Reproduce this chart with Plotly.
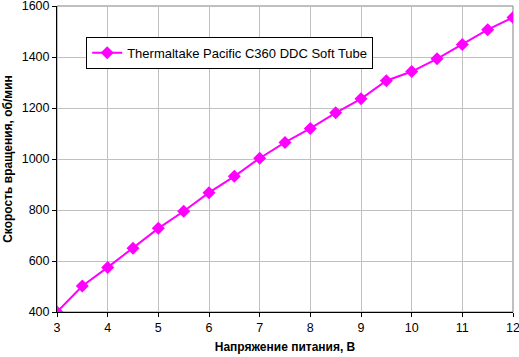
import plotly.graph_objects as go

voltage = [3, 3.5, 4, 4.5, 5, 5.5, 6, 6.5, 7, 7.5, 8, 8.5, 9, 9.5, 10, 10.5, 11, 11.5, 12]
rpm = [400, 502, 575, 650, 728, 795, 868, 932, 1003, 1065, 1120, 1181, 1236, 1307, 1343, 1393, 1449, 1507, 1555]
series_name = "Thermaltake Pacific C360 DDC Soft Tube"
x_ticks = [3, 4, 5, 6, 7, 8, 9, 10, 11, 12]
y_ticks = [400, 600, 800, 1000, 1200, 1400, 1600]

FONT = "Liberation Sans, Arial, sans-serif"

fig = go.Figure()
fig.add_trace(go.Scatter(
    x=voltage, y=rpm, name=series_name, mode="lines+markers",
    line=dict(color="#FF00FF", width=2),
    marker=dict(symbol="diamond", size=10, color="#FF00FF"),
))

fig.update_layout(
    width=519, height=357,
    margin=dict(l=57, r=6, t=6, b=45),
    paper_bgcolor="white", plot_bgcolor="white",
    font=dict(family=FONT, size=12.5, color="black"),
    showlegend=True,
    legend=dict(
        x=0.064, y=0.899, xanchor="left", yanchor="top",
        bgcolor="white", bordercolor="black", borderwidth=1,
        font=dict(family=FONT, size=13, color="black"),
        itemwidth=30,
    ),
    xaxis=dict(
        range=[3, 12], tickvals=x_ticks, ticktext=[str(v) for v in x_ticks],
        showgrid=True, gridcolor="#C0C0C0", gridwidth=1,
        showline=True, linecolor="black", linewidth=1, mirror=False,
        ticks="outside", ticklen=4, tickcolor="black",
        zeroline=False, automargin=False, ticklabeloverflow="allow",
        title=dict(text="<b>Напряжение питания, В</b>", standoff=8,
                   font=dict(family=FONT, size=12, color="black")),
    ),
    yaxis=dict(
        range=[400, 1600], tickvals=y_ticks, ticktext=[str(v) for v in y_ticks],
        showgrid=True, gridcolor="#C0C0C0", gridwidth=1,
        showline=True, linecolor="black", linewidth=1,
        ticks="outside", ticklen=4, tickcolor="black",
        zeroline=False, automargin=False, ticklabeloverflow="allow",
        title=dict(text="<b>Скорость вращения, об/мин</b>", standoff=6,
                   font=dict(family=FONT, size=12, color="black")),
    ),
)

fig.add_shape(type="rect", xref="paper", yref="paper", x0=0, y0=0, x1=1, y1=1,
              line=dict(color="#808080", width=1), layer="below")

fig.write_html("out.html", config={"displayModeBar": False})

with open("out.html", "r", encoding="utf-8") as f:
    html = f.read()
html = html.replace("<head>", "<head><style>html,body{margin:0;padding:0;overflow:hidden;}</style>", 1)
with open("out.html", "w", encoding="utf-8") as f:
    f.write(html)
